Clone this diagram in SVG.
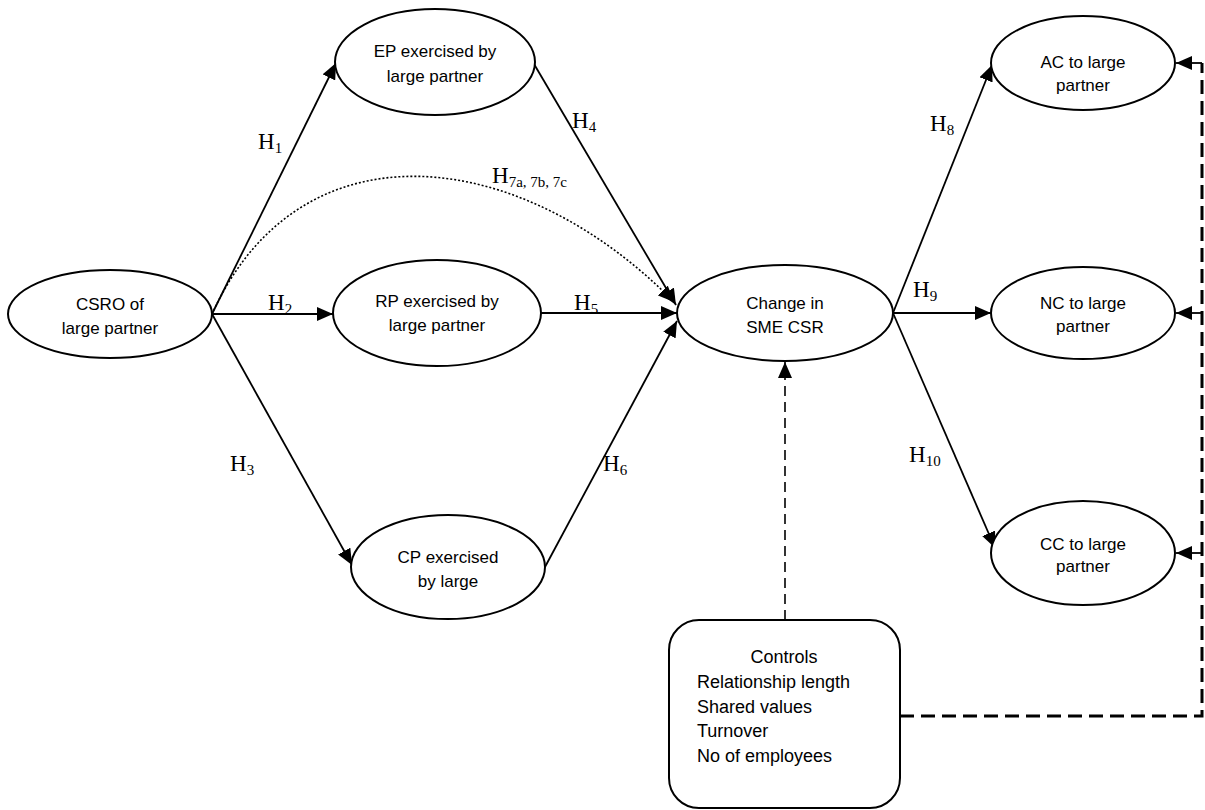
<svg xmlns="http://www.w3.org/2000/svg" width="1205" height="810" viewBox="0 0 1205 810">
<style>
.node ellipse, .node rect { fill: #fff; stroke: #000; stroke-width: 2; }
.lbl { font-family: "Liberation Sans", Arial, sans-serif; font-size: 17px; fill: #000; text-anchor: middle; }
.ctl { font-family: "Liberation Sans", Arial, sans-serif; font-size: 18px; fill: #000; }
.h { font-family: "Liberation Serif", "Times New Roman", serif; font-size: 23px; fill: #000; }
.h tspan.s { font-size: 15px; }
.edge { fill: none; stroke: #000; stroke-width: 1.8; }
.dot { fill: none; stroke: #000; stroke-width: 1.6; stroke-dasharray: 2 2; }
.dash1 { fill: none; stroke: #000; stroke-width: 1.6; stroke-dasharray: 10 6; }
.dash2 { fill: none; stroke: #000; stroke-width: 3; stroke-dasharray: 14 7; }
</style>
<defs>
<marker id="arr" markerUnits="userSpaceOnUse" markerWidth="18" markerHeight="14" refX="16" refY="7" orient="auto">
<path d="M0,0 L16,7 L0,14 Z" fill="#000"/>
</marker>
</defs>
<rect width="1205" height="810" fill="#fff"/>

<g id="connectors">
<line class="edge" x1="212" y1="314" x2="336" y2="63" marker-end="url(#arr)"/>
<line class="edge" x1="212" y1="314" x2="333" y2="314" marker-end="url(#arr)"/>
<line class="edge" x1="212" y1="314" x2="352" y2="565" marker-end="url(#arr)"/>
<path class="dot" d="M212,314 C300,120 520,145 674,302" marker-end="url(#arr)"/>
<line class="edge" x1="534" y1="64" x2="676" y2="305" marker-end="url(#arr)"/>
<line class="edge" x1="541" y1="313" x2="677" y2="313" marker-end="url(#arr)"/>
<line class="edge" x1="545" y1="567" x2="677" y2="321" marker-end="url(#arr)"/>
<line class="edge" x1="893" y1="313" x2="992" y2="65" marker-end="url(#arr)"/>
<line class="edge" x1="893" y1="313" x2="991" y2="313" marker-end="url(#arr)"/>
<line class="edge" x1="893" y1="313" x2="995" y2="548" marker-end="url(#arr)"/>
<line class="dash1" x1="785" y1="620" x2="785" y2="362" marker-end="url(#arr)"/>
<path class="dash2" d="M900,716 L1202,716 L1202,63"/>
<line class="edge" x1="1202" y1="63" x2="1176" y2="63" marker-end="url(#arr)"/>
<line class="edge" x1="1202" y1="313" x2="1176" y2="313" marker-end="url(#arr)"/>
<line class="edge" x1="1202" y1="553" x2="1176" y2="553" marker-end="url(#arr)"/>
<text class="h" x="258" y="149">H<tspan class="s" dy="4">1</tspan></text>
<text class="h" x="268" y="310">H<tspan class="s" dy="4">2</tspan></text>
<text class="h" x="230" y="471">H<tspan class="s" dy="4">3</tspan></text>
<text class="h" x="572" y="128">H<tspan class="s" dy="4">4</tspan></text>
<text class="h" x="574" y="310">H<tspan class="s" dy="4">5</tspan></text>
<text class="h" x="603" y="471">H<tspan class="s" dy="4">6</tspan></text>
<text class="h" x="492" y="183">H<tspan class="s" dy="4">7a, 7b, 7c</tspan></text>
<text class="h" x="930" y="131">H<tspan class="s" dy="4">8</tspan></text>
<text class="h" x="913" y="297">H<tspan class="s" dy="4">9</tspan></text>
<text class="h" x="909" y="462">H<tspan class="s" dy="4">10</tspan></text>
</g>

<g id="csro" class="node">
<ellipse cx="110" cy="314" rx="102" ry="44"/>
<text class="lbl" x="110" y="310">CSRO of</text>
<text class="lbl" x="110" y="334">large partner</text>
</g>
<g id="ep" class="node">
<ellipse cx="435" cy="62" rx="100" ry="53"/>
<text class="lbl" x="435" y="57">EP exercised by</text>
<text class="lbl" x="435" y="82">large partner</text>
</g>
<g id="rp" class="node">
<ellipse cx="437" cy="313" rx="104" ry="53"/>
<text class="lbl" x="437" y="307">RP exercised by</text>
<text class="lbl" x="437" y="331">large partner</text>
</g>
<g id="cp" class="node">
<ellipse cx="448" cy="567" rx="97" ry="52"/>
<text class="lbl" x="448" y="563">CP exercised</text>
<text class="lbl" x="448" y="587">by large</text>
</g>
<g id="change" class="node">
<ellipse cx="785" cy="313" rx="108" ry="48"/>
<text class="lbl" x="785" y="309">Change in</text>
<text class="lbl" x="785" y="333">SME CSR</text>
</g>
<g id="ac" class="node">
<ellipse cx="1083" cy="63" rx="92" ry="47"/>
<text class="lbl" x="1083" y="68">AC to large</text>
<text class="lbl" x="1083" y="91">partner</text>
</g>
<g id="nc" class="node">
<ellipse cx="1083" cy="313" rx="92" ry="46"/>
<text class="lbl" x="1083" y="309">NC to large</text>
<text class="lbl" x="1083" y="332">partner</text>
</g>
<g id="cc" class="node">
<ellipse cx="1083" cy="553" rx="92" ry="52"/>
<text class="lbl" x="1083" y="550">CC to large</text>
<text class="lbl" x="1083" y="572">partner</text>
</g>
<g id="controls" class="node">
<rect x="669" y="620" width="231" height="188" rx="30" ry="30"/>
<text class="ctl" x="784" y="663" text-anchor="middle">Controls</text>
<text class="ctl" x="697" y="688">Relationship length</text>
<text class="ctl" x="697" y="713">Shared values</text>
<text class="ctl" x="697" y="737">Turnover</text>
<text class="ctl" x="697" y="762">No of employees</text>
</g>
</svg>
